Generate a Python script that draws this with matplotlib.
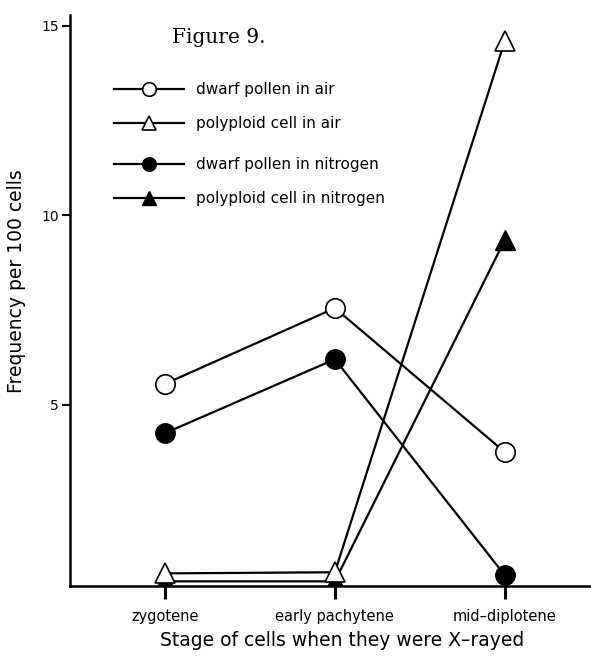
import matplotlib
matplotlib.use("Agg")
import matplotlib.pyplot as plt

stages = ["zygotene", "early pachytene", "mid\u2013diplotene"]
dwarf_air = [5.55, 7.55, 3.75]
polyploid_air = [0.55, 0.58, 14.6]
dwarf_nitrogen = [4.25, 6.2, 0.5]
polyploid_nitrogen = [0.34, 0.34, 9.35]
yticks = [5, 10, 15]

sans = ["DejaVu Sans"]
x = list(range(len(stages)))

fig = plt.figure(figsize=(5.91, 6.58), dpi=100)
ax = fig.add_axes([0.118, 0.109, 0.88, 0.868])

lw = 1.6
ms = 14
l1, = ax.plot(x, dwarf_air, color="black", lw=lw, marker="o", ms=ms,
              mfc="white", mec="black", mew=1.2, clip_on=False, zorder=3,
              label="dwarf pollen in air")
l2, = ax.plot(x, polyploid_air, color="black", lw=lw, marker="^", ms=ms + 1,
              mfc="white", mec="black", mew=1.2, clip_on=False, zorder=4,
              label="polyploid cell in air")
l3, = ax.plot(x, dwarf_nitrogen, color="black", lw=lw, marker="o", ms=ms,
              mfc="black", mec="black", clip_on=False, zorder=3,
              label="dwarf pollen in nitrogen")
l4, = ax.plot(x, polyploid_nitrogen, color="black", lw=lw, marker="^", ms=ms + 1,
              mfc="black", mec="black", clip_on=True, zorder=2,
              label="polyploid cell in nitrogen")

ax.set_xlim(-0.56, 2.5)
ax.set_ylim(0.21, 15.28)

for s in ["top", "right"]:
    ax.spines[s].set_visible(False)
for s in ["left", "bottom"]:
    ax.spines[s].set_linewidth(1.8)
    ax.spines[s].set_zorder(5)

ax.set_yticks(yticks)
ax.set_yticklabels([str(v) for v in yticks], fontsize=10, family=sans)
ax.set_xticks(x)
ax.set_xticklabels(stages, fontsize=10.5, family=sans)
ax.tick_params(axis="y", length=6, width=1.5, direction="out", pad=2)
ax.tick_params(axis="x", length=9, width=2.2, direction="out", pad=7)

ax.set_xlabel("Stage of cells when they were X\u2013rayed", fontsize=13.5,
              family=sans)
ax.xaxis.set_label_coords(0.523, -0.078)
ax.set_ylabel("Frequency per 100 cells", fontsize=13.5, family=sans)
ax.yaxis.set_label_coords(-0.085, 0.534)

ax.text(0.197, 0.96, "Figure 9.", transform=ax.transAxes, fontsize=14.5,
        family=["DejaVu Serif"], va="center", ha="left")

leg_kw = dict(loc="upper left", frameon=False,
              prop={"family": sans, "size": 11}, handlelength=4.6,
              markerscale=0.7, handletextpad=0.8, borderpad=0,
              labelspacing=1.25)
leg1 = ax.legend(handles=[l1, l2], bbox_to_anchor=(0.07, 0.896), **leg_kw)
ax.add_artist(leg1)
ax.legend(handles=[l3, l4], bbox_to_anchor=(0.07, 0.765), **leg_kw)

fig.savefig("out.png", dpi=100)
